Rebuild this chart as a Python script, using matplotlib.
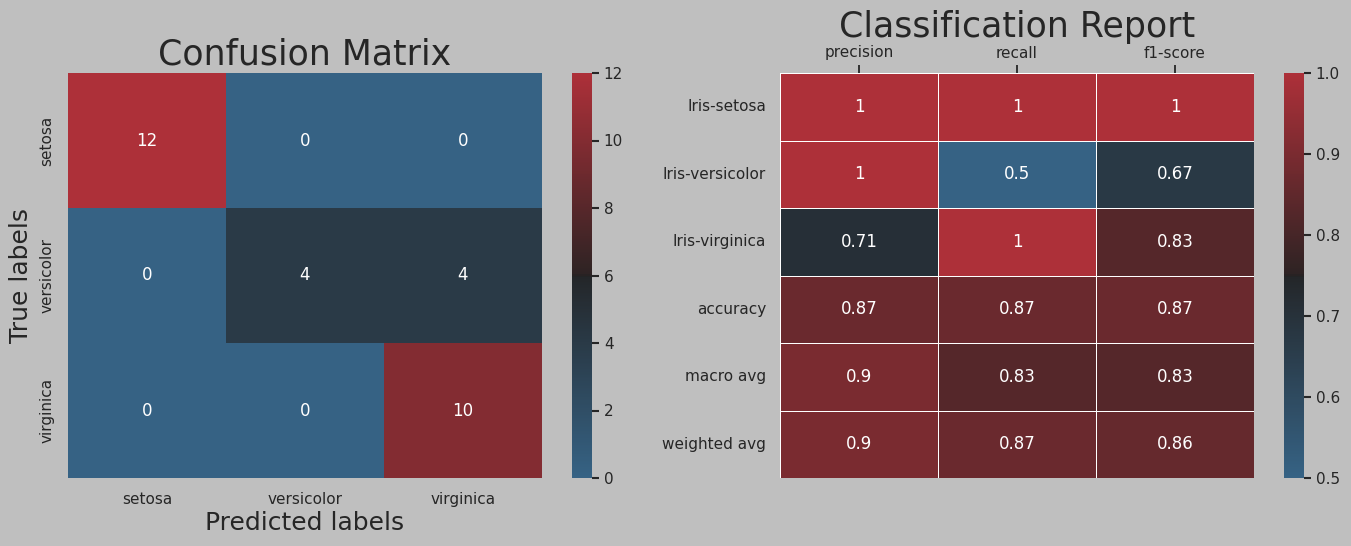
import numpy as np
import matplotlib
matplotlib.use("Agg")
import matplotlib.pyplot as plt
import seaborn as sns

cm_labels = ["setosa", "versicolor", "virginica"]
cm_values = [[12, 0, 0],
             [0, 4, 4],
             [0, 0, 10]]

report_rows = ["Iris-setosa", "Iris-versicolor", "Iris-virginica", "accuracy", "macro avg", "weighted avg"]
report_cols = ["precision", "recall", "f1-score"]
precision = [1.0, 1.0, 0.71, 0.87, 0.9, 0.9]
recall = [1.0, 0.5, 1.0, 0.87, 0.83, 0.87]
f1_score = [1.0, 0.67, 0.83, 0.87, 0.83, 0.86]

bg = "#bfbfbf"
txt = "#262626"
cmap = sns.diverging_palette(240, 10, s=72, l=40, center="dark", as_cmap=True)

fig = plt.figure(figsize=(13.51, 5.46), dpi=100, facecolor=bg)
W, H = 1351, 546

def rect(x0, x1, y0, y1):
    return [x0 / W, (H - y1) / H, (x1 - x0) / W, (y1 - y0) / H]

ax1 = fig.add_axes(rect(68, 542, 73, 478))
cax1 = fig.add_axes(rect(572, 592, 73, 478))
ax2 = fig.add_axes(rect(780, 1254, 73, 478))
cax2 = fig.add_axes(rect(1284, 1304, 73, 478))

sns.heatmap(np.array(cm_values), annot=True, fmt="d", cmap=cmap, ax=ax1, cbar_ax=cax1,
            xticklabels=cm_labels, yticklabels=cm_labels,
            annot_kws={"size": 12, "color": "white"})
ax1.set_title("Confusion Matrix", fontsize=25, color=txt)
ax1.set_xlabel("Predicted labels", fontsize=18, color=txt, labelpad=3)
ax1.set_ylabel("True labels", fontsize=18, color=txt, labelpad=4.5)
ax1.tick_params(axis="x", length=0, labelsize=11, colors=txt, pad=10)
ax1.tick_params(axis="y", length=0, labelsize=11, colors=txt, pad=10)
plt.setp(ax1.get_yticklabels(), rotation=90, va="center")
cax1.tick_params(length=5, width=1.5, labelsize=11, colors=txt)

report = np.array([precision, recall, f1_score]).T
sns.heatmap(report, annot=True, cmap=cmap, ax=ax2, cbar_ax=cax2,
            xticklabels=report_cols, yticklabels=report_rows,
            linewidths=0.5, linecolor="white",
            annot_kws={"size": 12, "color": "white"})
ax2.xaxis.tick_top()
ax2.set_title("Classification Report", fontsize=25, color=txt)
ax2.tick_params(axis="x", length=6, width=1.3, labelsize=11, colors=txt, pad=3)
ax2.tick_params(axis="y", length=0, labelsize=11, colors=txt, pad=10)
plt.setp(ax2.get_yticklabels(), rotation=0)
cax2.tick_params(length=5, width=1.5, labelsize=11, colors=txt)
cax2.yaxis.set_major_formatter(matplotlib.ticker.FormatStrFormatter("%.1f"))

for c in (cax1, cax2):
    c.set_facecolor(bg)
for a in (ax1, ax2):
    a.set_facecolor(bg)

fig.savefig("out.png", dpi=100, facecolor=bg)
